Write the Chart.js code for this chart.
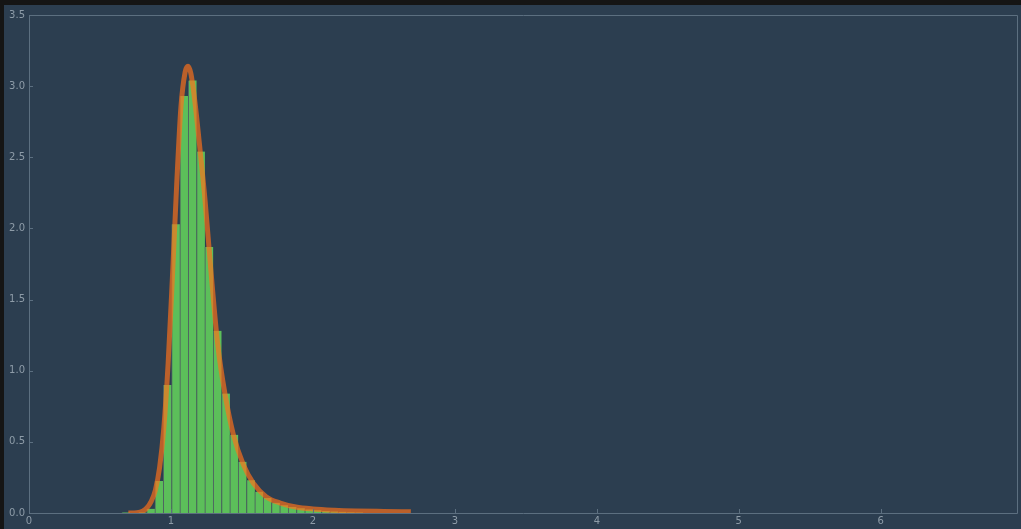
<!DOCTYPE html>
<html><head><meta charset="utf-8">
<script src="https://cdn.jsdelivr.net/npm/chart.js@4"></script>
<style>html,body{margin:0;padding:0;background:#2c3e50;overflow:hidden}canvas{display:block}</style>
</head><body><canvas id="c" width="1021" height="529"></canvas>
<script>
// Histogram bins (centres) and densities
const binCenters = [0.6820,0.7406,0.7993,0.8579,0.9166,0.9753,1.0339,1.0926,1.1513,1.2099,1.2686,1.3272,1.3859,1.4446,1.5032,1.5619,1.6206,1.6792,1.7379,1.7965,1.8552,1.9139,1.9725,2.0312,2.0899,2.1485,2.2072,2.2658,2.3245];
const binHeights = [0.004,0,0.004,0.03,0.225,0.90,2.03,2.93,3.04,2.54,1.87,1.28,0.84,0.55,0.36,0.23,0.15,0.105,0.072,0.055,0.042,0.033,0.025,0.019,0.014,0.011,0.008,0.006,0.004];
// Density curve
const curveX = [0.70,0.76,0.80,0.83,0.86,0.89,0.92,0.95,0.98,1.01,1.04,1.07,1.10,1.12,1.14,1.17,1.20,1.24,1.28,1.33,1.38,1.44,1.51,1.58,1.67,1.77,1.88,2.00,2.15,2.30,2.50,2.69];
const curveY = [0.0,0.002,0.012,0.035,0.08,0.16,0.32,0.60,1.05,1.65,2.30,2.85,3.10,3.14,3.09,2.88,2.60,2.20,1.72,1.18,0.84,0.55,0.34,0.21,0.115,0.07,0.042,0.028,0.019,0.014,0.011,0.009];
// Ticks
const xTickValues = [0,1,2,3,4,5,6];
const yTickValues = [0,0.5,1.0,1.5,2.0,2.5,3.0,3.5];
const xMax = 6.96, yMax = 3.5;

const BG = '#2c3e50', SPINE = '#5c6f80', LABEL = '#8e9ca8';

const framePlugin = {
  id: 'frame',
  beforeDraw(chart) {
    const ctx = chart.ctx;
    ctx.save();
    ctx.fillStyle = BG;
    ctx.fillRect(0, 0, chart.width, chart.height);
    ctx.fillStyle = '#151515';
    ctx.fillRect(0, 0, chart.width, 5);
    ctx.fillRect(0, 0, 4, chart.height);
    ctx.restore();
  },
  afterDraw(chart) {
    const ctx = chart.ctx, a = chart.chartArea;
    const xs = chart.scales.x, ys = chart.scales.y;
    ctx.save();
    ctx.strokeStyle = SPINE;
    ctx.lineWidth = 1;
    ctx.beginPath();
    ctx.rect(Math.round(a.left) + 0.5, Math.round(a.top) + 0.5, Math.round(a.right - a.left), Math.round(a.bottom - a.top));
    ctx.stroke();
    ctx.beginPath();
    xTickValues.forEach(v => {
      const px = Math.round(xs.getPixelForValue(v)) + 0.5;
      ctx.moveTo(px, a.bottom); ctx.lineTo(px, a.bottom - 4);
    });
    yTickValues.forEach(v => {
      const py = Math.round(ys.getPixelForValue(v)) + 0.5;
      ctx.moveTo(a.left, py); ctx.lineTo(a.left + 4, py);
    });
    ctx.stroke();
    ctx.restore();
  }
};

new Chart(document.getElementById('c'), {
  data: {
    datasets: [
      {
        type: 'line',
        data: curveX.map((x, i) => ({x: x, y: curveY[i]})),
        borderColor: 'rgba(255,112,25,0.68)',
        borderWidth: 5,
        pointRadius: 0,
        cubicInterpolationMode: 'monotone',
        fill: false,
        order: 0
      },
      {
        type: 'bar',
        data: binCenters.map((x, i) => ({x: x, y: binHeights[i]})),
        backgroundColor: '#5cbf5a',
        borderColor: '#4f6262',
        borderWidth: {left: 1, right: 0, top: 0, bottom: 0},
        borderSkipped: false,
        barPercentage: 1,
        categoryPercentage: 1,
        order: 1
      }
    ]
  },
  options: {
    responsive: false,
    animation: false,
    devicePixelRatio: 1,
    layout: {padding: {top: 15, right: 4, left: 0, bottom: 0}},
    plugins: {legend: {display: false}, tooltip: {enabled: false}},
    scales: {
      x: {
        type: 'linear', min: 0, max: xMax, offset: false,
        grid: {display: false, drawTicks: false, offset: false},
        border: {display: false},
        afterBuildTicks: s => { s.ticks = xTickValues.map(v => ({value: v})); },
        afterFit: s => { s.height = 16; },
        ticks: {color: LABEL, font: {family: 'DejaVu Sans', size: 10}, padding: 2, maxRotation: 0, autoSkip: false, callback: v => String(v)}
      },
      y: {
        type: 'linear', min: 0, max: yMax,
        grid: {display: false, drawTicks: false},
        border: {display: false},
        afterBuildTicks: s => { s.ticks = yTickValues.map(v => ({value: v})); },
        afterFit: s => { s.width = 29; },
        ticks: {color: LABEL, font: {family: 'DejaVu Sans', size: 10}, padding: 4, autoSkip: false, callback: v => Number(v).toFixed(1)}
      }
    }
  },
  plugins: [framePlugin]
});
</script>
</body></html>
